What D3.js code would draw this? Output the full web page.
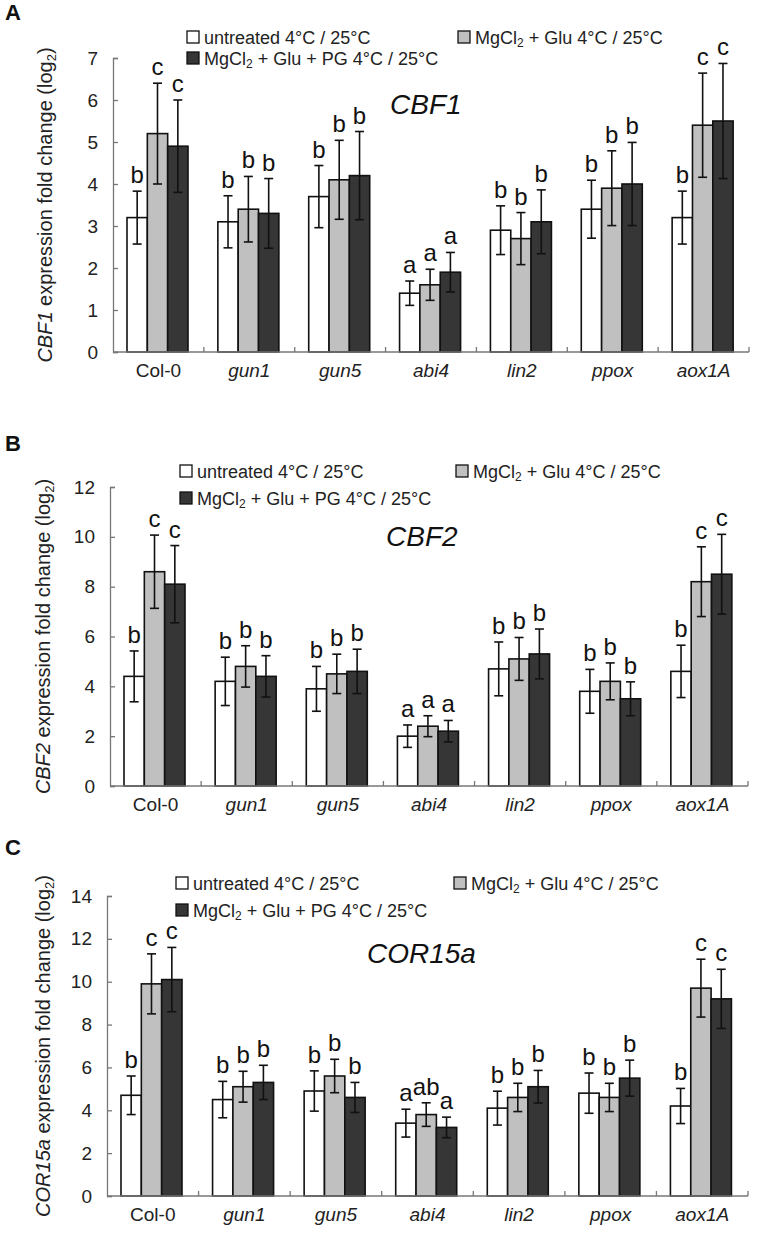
<!DOCTYPE html>
<html>
<head>
<meta charset="utf-8">
<script src="https://cdn.jsdelivr.net/npm/d3@7"></script>
<style>
  html, body { margin: 0; padding: 0; background: #fff; }
  svg { display: block; font-family: "Liberation Sans", Arial, sans-serif; }
</style>
</head>
<body>
<svg id="chart" width="758" height="1234"></svg>
<script>
// ---------- DATA ----------
const categories = ["Col-0", "gun1", "gun5", "abi4", "lin2", "ppox", "aox1A"];
const seriesKeys = ["untreated", "glu", "pg"];
const seriesFill = ["#ffffff", "#c0c0c0", "#363636"];

// CBF1
const cbf1Untreated    = [3.2, 3.1, 3.7, 1.4, 2.9, 3.4, 3.2];
const cbf1UntreatedErr = [0.63, 0.62, 0.74, 0.29, 0.58, 0.69, 0.63];
const cbf1Glu          = [5.2, 3.4, 4.1, 1.6, 2.7, 3.9, 5.4];
const cbf1GluErr       = [1.2, 0.78, 0.94, 0.37, 0.62, 0.89, 1.24];
const cbf1PG           = [4.9, 3.3, 4.2, 1.9, 3.1, 4.0, 5.5];
const cbf1PGErr        = [1.1, 0.83, 1.05, 0.47, 0.76, 0.99, 1.37];
const cbf1LettersUntreated = ["b", "b", "b", "a", "b", "b", "b"];
const cbf1LettersGlu       = ["c", "b", "b", "a", "b", "b", "c"];
const cbf1LettersPG        = ["c", "b", "b", "a", "b", "b", "c"];
const cbf1Ticks = [0, 1, 2, 3, 4, 5, 6, 7];

// CBF2
const cbf2Untreated    = [4.4, 4.2, 3.9, 2.0, 4.7, 3.8, 4.6];
const cbf2UntreatedErr = [1.02, 0.97, 0.9, 0.45, 1.08, 0.88, 1.05];
const cbf2Glu          = [8.6, 4.8, 4.5, 2.4, 5.1, 4.2, 8.2];
const cbf2GluErr       = [1.47, 0.83, 0.79, 0.42, 0.86, 0.74, 1.4];
const cbf2PG           = [8.1, 4.4, 4.6, 2.2, 5.3, 3.5, 8.5];
const cbf2PGErr        = [1.55, 0.83, 0.89, 0.43, 1.0, 0.68, 1.6];
const cbf2LettersUntreated = ["b", "b", "b", "a", "b", "b", "b"];
const cbf2LettersGlu       = ["c", "b", "b", "a", "b", "b", "c"];
const cbf2LettersPG        = ["c", "b", "b", "a", "b", "b", "c"];
const cbf2Ticks = [0, 2, 4, 6, 8, 10, 12];

// COR15a
const cor15aUntreated    = [4.7, 4.5, 4.9, 3.4, 4.1, 4.8, 4.2];
const cor15aUntreatedErr = [0.9, 0.85, 0.94, 0.65, 0.79, 0.94, 0.82];
const cor15aGlu          = [9.9, 5.1, 5.6, 3.8, 4.6, 4.6, 9.7];
const cor15aGluErr       = [1.4, 0.72, 0.78, 0.55, 0.66, 0.66, 1.35];
const cor15aPG           = [10.1, 5.3, 4.6, 3.2, 5.1, 5.5, 9.2];
const cor15aPGErr        = [1.5, 0.8, 0.7, 0.48, 0.76, 0.84, 1.38];
const cor15aLettersUntreated = ["b", "b", "b", "a", "b", "b", "b"];
const cor15aLettersGlu       = ["c", "b", "b", "ab", "b", "b", "c"];
const cor15aLettersPG        = ["c", "b", "b", "a", "b", "b", "c"];
const cor15aTicks = [0, 2, 4, 6, 8, 10, 12, 14];

// ---------- DRAW ----------
const svg = d3.select("#chart");
const FONT = 18;
const AXFONT = 19;

function drawPanel(cfg) {
  const g = svg.append("g");
  const y = d3.scaleLinear().domain([0, cfg.ticks[cfg.ticks.length - 1]]).range([cfg.y0, cfg.yTop]);
  const x0 = d3.scaleBand().domain(categories).range([cfg.axisX, cfg.right]).padding(0);
  const x1 = d3.scaleBand().domain(seriesKeys).range([14, 75]).padding(0);

  const rows = [];
  seriesKeys.forEach((k, si) => {
    categories.forEach((c, ci) => {
      rows.push({ cat: c, key: k, si: si, v: cfg.means[si][ci], e: cfg.errs[si][ci], lab: cfg.letters[si][ci] });
    });
  });

  // bars
  g.selectAll("rect.bar").data(rows).join("rect")
    .attr("class", "bar")
    .attr("x", d => x0(d.cat) + x1(d.key))
    .attr("y", d => y(d.v))
    .attr("width", x1.bandwidth())
    .attr("height", d => y(0) - y(d.v))
    .attr("fill", d => seriesFill[d.si])
    .attr("stroke", "#111")
    .attr("stroke-width", 1.6);

  // error bars
  const cx = d => x0(d.cat) + x1(d.key) + x1.bandwidth() / 2;
  const eg = g.append("g").attr("stroke", "#111").attr("stroke-width", 1.6);
  eg.selectAll("line.v").data(rows).join("line")
    .attr("x1", cx).attr("x2", cx)
    .attr("y1", d => y(d.v + d.e)).attr("y2", d => y(d.v - d.e));
  eg.selectAll("line.t").data(rows).join("line")
    .attr("x1", d => cx(d) - 4.5).attr("x2", d => cx(d) + 4.5)
    .attr("y1", d => y(d.v + d.e)).attr("y2", d => y(d.v + d.e));
  eg.selectAll("line.b").data(rows).join("line")
    .attr("x1", d => cx(d) - 4.5).attr("x2", d => cx(d) + 4.5)
    .attr("y1", d => y(d.v - d.e)).attr("y2", d => y(d.v - d.e));

  // significance letters
  g.selectAll("text.sig").data(rows).join("text")
    .attr("x", cx)
    .attr("y", d => y(d.v + d.e) - 8)
    .attr("text-anchor", "middle")
    .attr("font-size", 24)
    .attr("fill", "#111")
    .text(d => d.lab);

  // y axis
  const yAxis = d3.axisLeft(y).tickValues(cfg.ticks).tickSize(-5).tickPadding(15).tickFormat(d3.format("d"));
  const ya = g.append("g").attr("transform", `translate(${cfg.axisX},0)`).call(yAxis);
  ya.select(".domain").attr("stroke", "#777").attr("stroke-width", 1.3);
  ya.selectAll(".tick line").attr("stroke", "#777").attr("stroke-width", 1.3);
  ya.selectAll(".tick text").attr("font-size", AXFONT).attr("fill", "#222").attr("font-family", "Liberation Sans, Arial, sans-serif");

  // x axis with category-boundary ticks
  const xa = g.append("g");
  xa.append("line").attr("x1", cfg.axisX).attr("x2", cfg.right).attr("y1", y(0)).attr("y2", y(0))
    .attr("stroke", "#777").attr("stroke-width", 1.3);
  const bounds = categories.map(c => x0(c) + x0.bandwidth());
  xa.selectAll("line.sep").data(bounds).join("line")
    .attr("x1", d => d).attr("x2", d => d).attr("y1", y(0)).attr("y2", y(0) - 5)
    .attr("stroke", "#777").attr("stroke-width", 1.3);
  xa.selectAll("text").data(categories).join("text")
    .attr("x", d => x0(d) + x0.bandwidth() / 2)
    .attr("y", y(0) + 25)
    .attr("text-anchor", "middle")
    .attr("font-size", AXFONT)
    .attr("font-style", (d, i) => i === 0 ? "normal" : "italic")
    .attr("fill", "#222")
    .text(d => d);

  // y label
  const yl = g.append("text")
    .attr("transform", `translate(${cfg.labelX},${(cfg.y0 + cfg.yTop) / 2}) rotate(-90)`)
    .attr("text-anchor", "middle")
    .attr("font-size", 20)
    .attr("fill", "#222");
  yl.append("tspan").attr("font-style", "italic").text(cfg.gene);
  yl.append("tspan").text(" expression fold change (log");
  yl.append("tspan").attr("font-size", 13).attr("dy", 4).text("2");
  yl.append("tspan").attr("dy", -4).text(")");

  // title
  g.append("text").attr("x", cfg.titleX).attr("y", cfg.titleY)
    .attr("font-size", 28).attr("font-style", "italic").attr("fill", "#111").text(cfg.gene);

  // panel letter
  g.append("text").attr("x", 5).attr("y", cfg.letterY)
    .attr("font-size", 22).attr("font-weight", "bold").attr("fill", "#111").text(cfg.panel);

  // legend
  const legendItems = [
    { si: 0, x: cfg.leg1X, y: cfg.legRow1 },
    { si: 1, x: cfg.leg2X, y: cfg.legRow1 },
    { si: 2, x: cfg.leg1X, y: cfg.legRow2 }
  ];
  const lg = g.append("g");
  legendItems.forEach(it => {
    lg.append("rect").attr("x", it.x).attr("y", it.y - 6).attr("width", 12).attr("height", 12)
      .attr("fill", seriesFill[it.si]).attr("stroke", "#111").attr("stroke-width", 1.3);
    const t = lg.append("text").attr("x", it.x + 17).attr("y", it.y + 6.5)
      .attr("font-size", FONT).attr("fill", "#222");
    if (it.si === 0) {
      t.text("untreated 4°C / 25°C");
    } else {
      t.append("tspan").text("MgCl");
      t.append("tspan").attr("font-size", 12).attr("dy", 3).text("2");
      t.append("tspan").attr("dy", -3).text(it.si === 1 ? " + Glu 4°C / 25°C" : " + Glu + PG 4°C / 25°C");
    }
  });
}

drawPanel({
  panel: "A", gene: "CBF1", ticks: cbf1Ticks,
  means: [cbf1Untreated, cbf1Glu, cbf1PG], errs: [cbf1UntreatedErr, cbf1GluErr, cbf1PGErr],
  letters: [cbf1LettersUntreated, cbf1LettersGlu, cbf1LettersPG],
  axisX: 113, right: 749, y0: 352, yTop: 58, labelX: 52,
  titleX: 390, titleY: 114, letterY: 20,
  leg1X: 187, leg2X: 458, legRow1: 37, legRow2: 58
});
drawPanel({
  panel: "B", gene: "CBF2", ticks: cbf2Ticks,
  means: [cbf2Untreated, cbf2Glu, cbf2PG], errs: [cbf2UntreatedErr, cbf2GluErr, cbf2PGErr],
  letters: [cbf2LettersUntreated, cbf2LettersGlu, cbf2LettersPG],
  axisX: 110, right: 748, y0: 786, yTop: 487, labelX: 50,
  titleX: 386, titleY: 546, letterY: 451,
  leg1X: 180, leg2X: 456, legRow1: 471, legRow2: 498
});
drawPanel({
  panel: "C", gene: "COR15a", ticks: cor15aTicks,
  means: [cor15aUntreated, cor15aGlu, cor15aPG], errs: [cor15aUntreatedErr, cor15aGluErr, cor15aPGErr],
  letters: [cor15aLettersUntreated, cor15aLettersGlu, cor15aLettersPG],
  axisX: 107, right: 748, y0: 1196, yTop: 896, labelX: 50,
  titleX: 367, titleY: 963, letterY: 855,
  leg1X: 176, leg2X: 454, legRow1: 883, legRow2: 910
});
</script>
</body>
</html>
